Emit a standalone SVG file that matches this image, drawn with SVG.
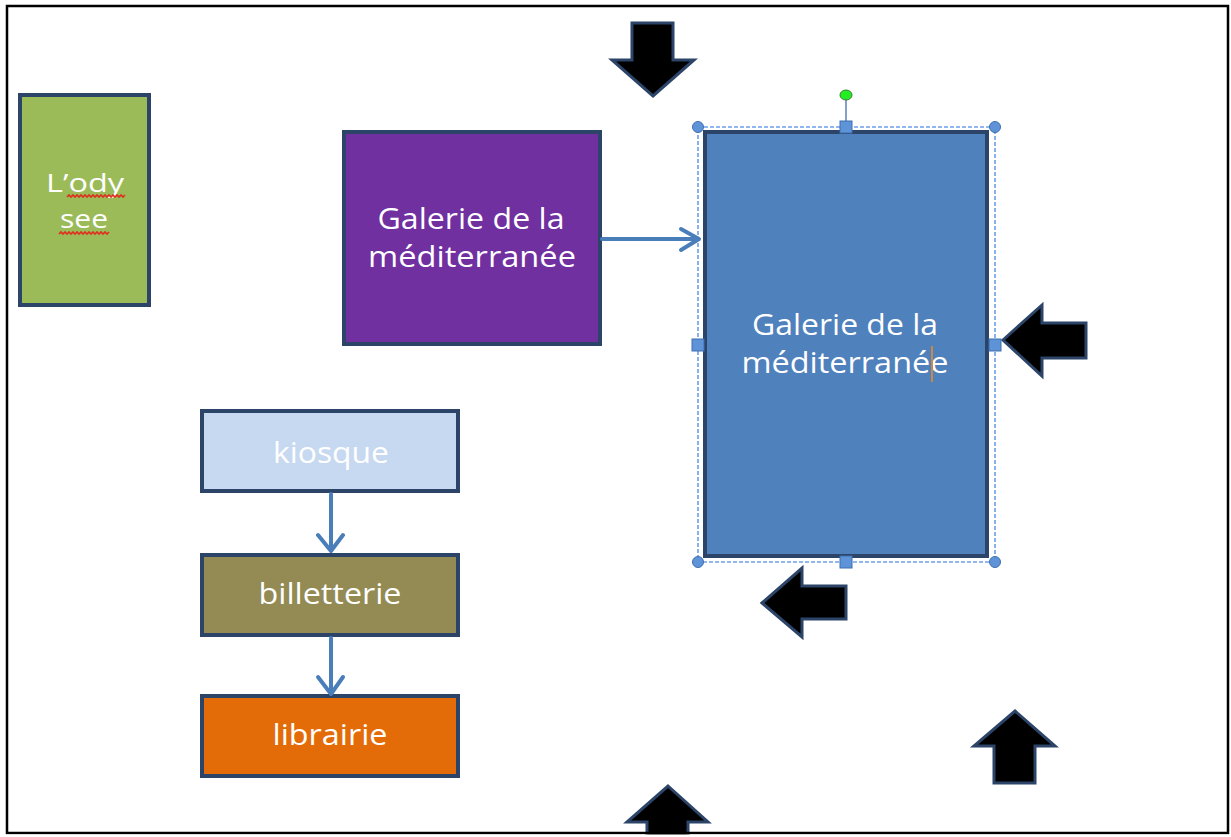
<svg xmlns="http://www.w3.org/2000/svg" width="1231" height="837" viewBox="0 0 1231 837">
  <style>
    .box { stroke: #2b4468; stroke-width: 4; }
    .lbl { font-family: "Open Sans", "Liberation Sans", sans-serif; font-size: 29px; fill: #ffffff; text-anchor: middle; }
    .lbs { font-size: 26px; }
    .blk { fill: #000000; stroke: #2b4468; stroke-width: 3; stroke-linejoin: miter; }
    .conn { fill: none; stroke: #4a7ebb; stroke-width: 4; stroke-linecap: round; stroke-linejoin: round; }
    .sq { fill: none; stroke: #e03020; stroke-width: 1.6; }
    .hdl { fill: #5f93d8; stroke: #3f6fb0; stroke-width: 1; }
  </style>
  <rect x="0" y="0" width="1231" height="837" fill="#ffffff"/>

  <!-- block arrows -->
  <g id="arrow-down-top"><polygon class="blk" points="632,23 673,23 673,60 694,60 653,96 612,60 632,60"/></g>
  <g id="arrow-left-right"><polygon class="blk" points="1003,340 1042,305 1042,323 1086,323 1086,358 1042,358 1042,376"/></g>
  <g id="arrow-left-bottom"><polygon class="blk" points="762,603 802,568 802,586 846,586 846,619 802,619 802,637"/></g>
  <g id="arrow-up-right"><polygon class="blk" points="1015,711 1055,746 1035,746 1035,783 994,783 994,746 974,746"/></g>
  <g id="arrow-up-bottom"><polygon class="blk" points="668,786 708,822 688,822 688,840 647,840 647,822 627,822"/></g>

  <!-- nodes -->
  <g id="lodysee">
    <rect class="box" x="20" y="95" width="129" height="210" fill="#9bbb59"/>
    <text class="lbl lbs" x="85" y="192" textLength="78" lengthAdjust="spacingAndGlyphs">L’ody</text>
    <text class="lbl lbs" x="84" y="228" textLength="48" lengthAdjust="spacingAndGlyphs">see</text>
    <path class="sq" d="M67,197 l2,-2 l2,2 l2,-2 l2,2 l2,-2 l2,2 l2,-2 l2,2 l2,-2 l2,2 l2,-2 l2,2 l2,-2 l2,2 l2,-2 l2,2 l2,-2 l2,2 l2,-2 l2,2 l2,-2 l2,2 l2,-2 l2,2 l2,-2 l2,2 l2,-2 l2,2 l2,-2"/>
    <path class="sq" d="M59,234 l2,-2 l2,2 l2,-2 l2,2 l2,-2 l2,2 l2,-2 l2,2 l2,-2 l2,2 l2,-2 l2,2 l2,-2 l2,2 l2,-2 l2,2 l2,-2 l2,2 l2,-2 l2,2 l2,-2 l2,2 l2,-2 l2,2 l2,-2"/>
  </g>

  <g id="galerie-small">
    <rect class="box" x="344" y="132" width="256" height="212" fill="#7030a0"/>
    <text class="lbl" x="471" y="229" textLength="187" lengthAdjust="spacingAndGlyphs">Galerie de la</text>
    <text class="lbl" x="472" y="267" textLength="208" lengthAdjust="spacingAndGlyphs">méditerranée</text>
  </g>

  <g id="galerie-large">
    <rect class="box" x="705" y="132" width="282" height="424" fill="#4f81bd"/>
    <text class="lbl" x="845" y="335" textLength="186" lengthAdjust="spacingAndGlyphs">Galerie de la</text>
    <text class="lbl" x="845" y="373" textLength="207" lengthAdjust="spacingAndGlyphs">méditerranée</text>
    <line x1="932" y1="346" x2="932" y2="382" stroke="#c8894a" stroke-width="2"/>
  </g>

  <g id="selection">
    <rect x="698" y="127" width="297" height="435" fill="none" stroke="#6d9eeb" stroke-width="1.6" stroke-dasharray="4,2"/>
    <line x1="846" y1="100" x2="846" y2="122" stroke="#5a82b8" stroke-width="1.5"/>
    <ellipse cx="846" cy="95" rx="6" ry="5" fill="#22ee22" stroke="#3a7a3a" stroke-width="1"/>
    <circle class="hdl" cx="698" cy="127" r="5.5"/>
    <circle class="hdl" cx="995" cy="127" r="5.5"/>
    <circle class="hdl" cx="698" cy="562" r="5.5"/>
    <circle class="hdl" cx="995" cy="562" r="5.5"/>
    <rect class="hdl" x="840" y="121" width="12" height="12"/>
    <rect class="hdl" x="840" y="556" width="12" height="12"/>
    <rect class="hdl" x="692" y="339" width="12" height="12"/>
    <rect class="hdl" x="989" y="339" width="12" height="12"/>
  </g>

  <g id="kiosque">
    <rect class="box" x="202" y="411" width="256" height="80" fill="#c6d9f1"/>
    <text class="lbl" x="331" y="463" textLength="116" lengthAdjust="spacingAndGlyphs">kiosque</text>
  </g>
  <g id="billetterie">
    <rect class="box" x="202" y="555" width="256" height="80" fill="#948a54"/>
    <text class="lbl" x="330" y="604" textLength="143" lengthAdjust="spacingAndGlyphs">billetterie</text>
  </g>
  <g id="librairie">
    <rect class="box" x="202" y="696" width="256" height="80" fill="#e36c09"/>
    <text class="lbl" x="330" y="745" textLength="115" lengthAdjust="spacingAndGlyphs">librairie</text>
  </g>

  <!-- connectors -->
  <g id="connectors">
    <path class="conn" d="M602,239 L698,239 M681,229 L699,239 L681,250"/>
    <path class="conn" d="M331,494 L331,550 M318,535 L331,551 L343,535"/>
    <path class="conn" d="M331,638 L331,693 M318,677 L331,694 L343,677"/>
  </g>

  <!-- frame -->
  <rect x="7" y="6" width="1221" height="827" fill="none" stroke="#000000" stroke-width="2.5"/>
  <rect x="0" y="834.5" width="1231" height="3" fill="#ffffff"/>
</svg>
